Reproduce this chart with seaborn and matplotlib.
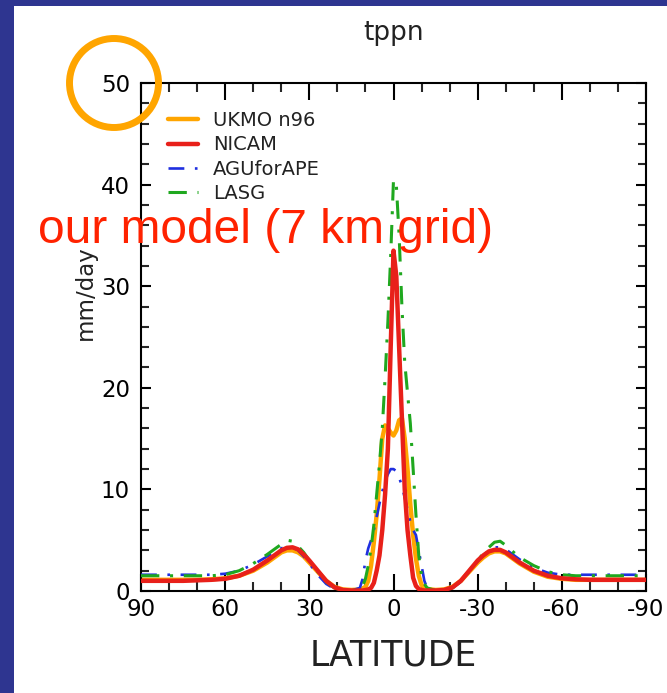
import numpy as np
import pandas as pd
import matplotlib
matplotlib.use("Agg")
import matplotlib.pyplot as plt
from matplotlib.patches import Rectangle, Ellipse
from matplotlib.ticker import MultipleLocator, FixedLocator
import seaborn as sns

# ---------------- data ----------------
lat = [90, 85, 80, 75, 70, 65, 60, 55, 50, 45,
       42, 40, 38, 36, 34, 32, 30,
       27, 24, 21, 18, 15, 12,
       11, 10, 9, 8, 7, 6, 5, 4, 3, 2, 1, 0,
       -1, -2, -3, -4, -5, -6, -7, -8, -9, -10, -11, -12,
       -15, -18, -21, -24, -27, -30,
       -32, -34, -36, -38, -40, -42, -45,
       -50, -55, -60, -65, -70, -75, -80, -85, -90]

ukmo_n96 = [1.1, 1.1, 1.1, 1.1, 1.1, 1.15, 1.25, 1.5, 2.0, 2.8,
            3.4, 3.8, 4.0, 4.0, 3.8, 3.4, 2.8,
            1.9, 1.0, 0.4, 0.15, 0.1, 0.15,
            0.25, 0.4, 1.0, 2.5, 4.8, 7.5, 11.0, 15.0, 16.3, 16.0, 15.6, 15.3,
            15.8, 16.8, 17.0, 15.0, 12.0, 8.5, 5.5, 3.2, 1.5, 0.6, 0.3, 0.2,
            0.1, 0.15, 0.4, 1.0, 1.9, 2.8,
            3.3, 3.7, 3.9, 3.9, 3.7, 3.3, 2.7,
            1.9, 1.4, 1.2, 1.1, 1.1, 1.1, 1.1, 1.1, 1.1]

nicam = [1.0, 1.0, 1.0, 1.0, 1.05, 1.1, 1.2, 1.5, 2.1, 3.0,
         3.6, 4.0, 4.25, 4.3, 4.1, 3.6, 3.0,
         2.0, 1.0, 0.35, 0.1, 0.05, 0.05,
         0.05, 0.1, 0.15, 0.3, 0.8, 2.0, 3.5, 6.0, 9.5, 14.0, 24.0, 33.5,
         31.0, 24.0, 17.0, 10.0, 6.0, 3.5, 1.3, 0.5, 0.2, 0.1, 0.05, 0.05,
         0.05, 0.1, 0.35, 1.0, 2.0, 3.0,
         3.5, 3.9, 4.05, 4.05, 3.8, 3.4, 2.8,
         2.0, 1.5, 1.25, 1.15, 1.1, 1.1, 1.1, 1.1, 1.1]

agu_for_ape = [1.6, 1.6, 1.6, 1.6, 1.6, 1.6, 1.7, 2.0, 2.6, 3.4,
               3.9, 4.2, 4.4, 4.3, 4.0, 3.4, 2.7,
               1.6, 0.7, 0.2, 0.05, 0.05, 0.3,
               1.2, 3.0, 4.2, 5.0, 6.0, 7.3, 8.6, 9.8, 10.8, 11.5, 12.0, 12.0,
               11.8, 11.2, 10.3, 9.2, 8.0, 6.8, 6.0, 5.5, 4.0, 2.5, 1.0, 0.3,
               0.05, 0.05, 0.3, 0.9, 1.9, 2.9,
               3.5, 4.0, 4.3, 4.3, 4.1, 3.7, 3.1,
               2.3, 1.8, 1.6, 1.6, 1.6, 1.6, 1.6, 1.6, 1.6]

lasg = [1.5, 1.5, 1.5, 1.5, 1.5, 1.5, 1.6, 2.0, 2.7, 3.6,
        4.2, 4.6, 5.0, 4.9, 4.4, 3.8, 3.0,
        1.9, 0.9, 0.3, 0.05, 0.05, 0.2,
        0.5, 1.2, 2.5, 4.2, 6.5, 9.5, 12.5, 16.0, 21.0, 26.5, 33.0, 40.5,
        40.0, 35.0, 28.0, 22.5, 19.5, 16.5, 12.0, 7.5, 3.5, 1.5, 0.7, 0.3,
        0.05, 0.05, 0.3, 1.0, 2.0, 3.0,
        3.7, 4.3, 4.8, 4.9, 4.5, 4.0, 3.3,
        2.5, 1.9, 1.6, 1.5, 1.5, 1.5, 1.5, 1.5, 1.5]

models = ["UKMO n96", "NICAM", "AGUforAPE", "LASG"]
x_ticks = [90, 60, 30, 0, -30, -60, -90]
x_ticklabels = ["90", "60", "30", "0", "-30", "-60", "-90"]
y_ticks = [0, 10, 20, 30, 40, 50]

# ---------------- style ----------------
sns.set_style("ticks")
plt.rcParams["font.family"] = ["DejaVu Sans"]

W, H = 667, 693
fig = plt.figure(figsize=(W / 100, H / 100), dpi=100, facecolor="#2e3590")
fig.patches.append(Rectangle((14 / W, 0), 1, (H - 6) / H, transform=fig.transFigure,
                             facecolor="white", edgecolor="none", zorder=-1))

ax_l, ax_r, ax_t, ax_b = 141, 646, 83, 591
ax = fig.add_axes([ax_l / W, 1 - ax_b / H, (ax_r - ax_l) / W, (ax_b - ax_t) / H])
ax.set_facecolor("white")

df = pd.DataFrame({"lat": lat, "UKMO n96": ukmo_n96, "NICAM": nicam,
                   "AGUforAPE": agu_for_ape, "LASG": lasg})
long = df.melt(id_vars="lat", var_name="model", value_name="pr")

styles = {
    "UKMO n96": dict(color="#ffa500", lw=3.2, dashes=None, z=2),
    "AGUforAPE": dict(color="#1f2fe0", lw=1.9, dashes=(6, 4, 1, 4), z=3),
    "LASG": dict(color="#1fa81f", lw=2.2, dashes=(6, 3.5, 1, 3.5), z=4),
    "NICAM": dict(color="#e8201a", lw=3.2, dashes=None, z=5),
}
handles = {}
for m in ["UKMO n96", "AGUforAPE", "LASG", "NICAM"]:
    s = styles[m]
    sub = long[long["model"] == m]
    sns.lineplot(data=sub, x="lat", y="pr", ax=ax, color=s["color"], lw=s["lw"],
                 estimator=None, sort=False, zorder=s["z"], label=m)
    line = ax.lines[-1]
    if s["dashes"] is not None:
        line.set_dashes(s["dashes"])
    handles[m] = line

ax.set_xlim(90, -90)
ax.set_ylim(0, 50)
ax.xaxis.set_major_locator(FixedLocator(x_ticks))
ax.set_xticklabels(x_ticklabels)
ax.xaxis.set_minor_locator(MultipleLocator(10))
ax.yaxis.set_major_locator(FixedLocator(y_ticks))
ax.yaxis.set_minor_locator(MultipleLocator(2))

for sp in ax.spines.values():
    sp.set_visible(True)
    sp.set_linewidth(1.5)
    sp.set_color("black")
ax.tick_params(axis="x", which="major", direction="in", length=12, width=1.5,
               top=True, bottom=True, labelsize=16.5, pad=5, colors="black")
ax.tick_params(axis="x", which="minor", direction="in", length=6.5, width=1.5,
               top=True, bottom=True)
ax.tick_params(axis="y", which="major", direction="in", length=7, width=1.5,
               left=True, right=True, labelsize=16.5, pad=8, colors="black")
ax.tick_params(axis="y", which="minor", direction="in", length=6, width=1.5,
               left=True, right=True)

ax.set_title("tppn", fontsize=19, pad=31, color="#222222")
ax.set_xlabel("LATITUDE", fontsize=25, labelpad=13, color="#222222")
ax.set_ylabel("mm/day", fontsize=16.5, color="#222222")
ax.yaxis.set_label_coords((97 - ax_l) / (ax_r - ax_l), (ax_b - 293) / (ax_b - ax_t))

leg = ax.legend([handles[m] for m in models], models, loc="upper left",
                bbox_to_anchor=(0.054, 0.945), frameon=False, fontsize=14,
                handlelength=1.55, handletextpad=0.75, labelspacing=0.28,
                borderpad=0, borderaxespad=0)
for t in leg.get_texts():
    t.set_color("#222222")

# annotation overlays
fig.text(38 / W, 1 - 243 / H, "our model (7 km grid)", color="#ff2200",
         fontsize=34.5, family=["Liberation Sans", "DejaVu Sans"],
         va="baseline", ha="left", zorder=10)
fig.patches.append(Ellipse((114 / W, 1 - 83 / H), 89 / W, 89 / H,
                           transform=fig.transFigure, fill=False,
                           edgecolor="#ffa500", lw=5, zorder=10))

fig.savefig("out.png", dpi=100, facecolor=fig.get_facecolor())
